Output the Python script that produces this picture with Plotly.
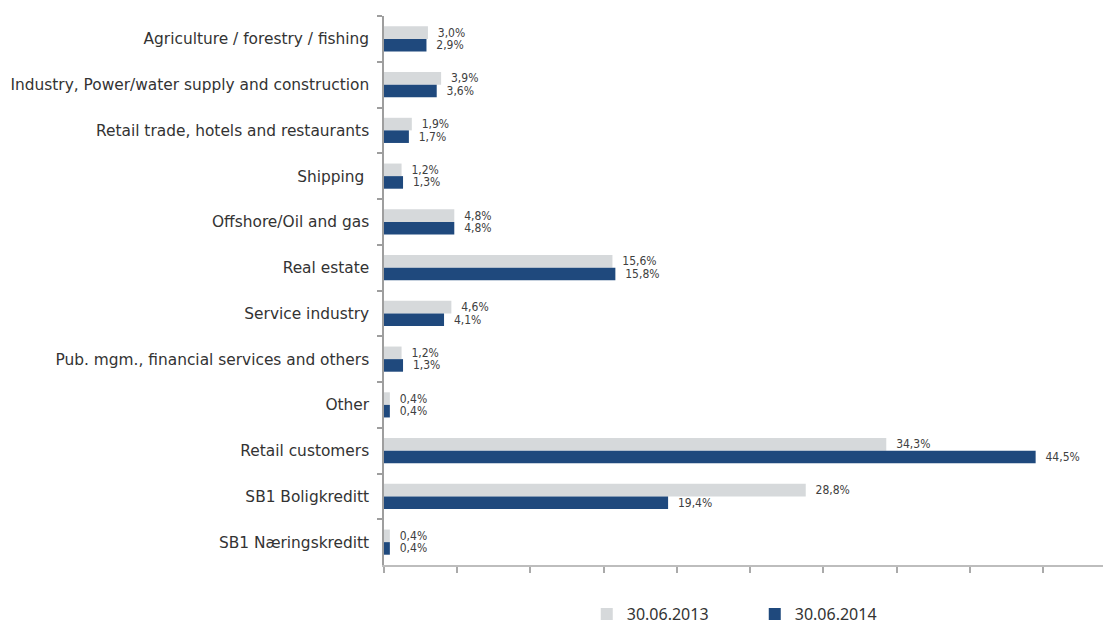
import plotly.graph_objects as go

# Loan exposure by sector, share of total (%)
categories = [
    "Agriculture / forestry / fishing",
    "Industry, Power/water supply and construction",
    "Retail trade, hotels and restaurants",
    "Shipping\u00a0",
    "Offshore/Oil and gas",
    "Real estate",
    "Service industry",
    "Pub. mgm., financial services and others",
    "Other",
    "Retail customers",
    "SB1 Boligkreditt",
    "SB1 Næringskreditt",
]
share_2013 = [3.0, 3.9, 1.9, 1.2, 4.8, 15.6, 4.6, 1.2, 0.4, 34.3, 28.8, 0.4]
share_2014 = [2.9, 3.6, 1.7, 1.3, 4.8, 15.8, 4.1, 1.3, 0.4, 44.5, 19.4, 0.4]
series_names = ["30.06.2013", "30.06.2014"]

GREY = "#D6D9DB"
BLUE = "#1F497D"
LABEL_FONT = dict(family="DejaVu Sans Condensed, Roboto, sans-serif", size=12, color="#404040")

fig = go.Figure()
for name, values, color in [(series_names[0], share_2013, GREY), (series_names[1], share_2014, BLUE)]:
    fig.add_trace(go.Bar(
        name=name,
        y=categories,
        x=values,
        orientation="h",
        marker=dict(color=color, line=dict(width=0)),
        texttemplate="\u00a0\u00a0%{x:.1f}%",
        textposition="outside",
        constraintext="none",
        cliponaxis=False,
        textfont=LABEL_FONT,
        hoverinfo="skip",
    ))

fig.update_layout(
    width=1103,
    height=631,
    margin=dict(l=384, r=0, t=16, b=66),
    paper_bgcolor="white",
    plot_bgcolor="white",
    barmode="group",
    bargap=0.45,
    bargroupgap=0,
    separators=", ",
    font=dict(family="DejaVu Sans, sans-serif", size=15, color="#333333"),
    showlegend=True,
    legend=dict(
        orientation="h",
        xref="container",
        yref="container",
        x=(384 + 0.282 * 719) / 1103,
        xanchor="left",
        y=0,
        yanchor="bottom",
        font=dict(family="Noto Sans, DejaVu Sans, sans-serif", size=16, color="#333333"),
        entrywidth=123,
        entrywidthmode="pixels",
        itemclick=False,
        itemdoubleclick=False,
    ),
)

fig.update_xaxes(
    range=[0, 49.1],
    dtick=5,
    tick0=0,
    showticklabels=False,
    showgrid=False,
    zeroline=False,
    showline=True,
    linecolor="#BDBDBD",
    linewidth=2,
    ticks="outside",
    ticklen=6,
    tickcolor="#AAAAAA",
    tickwidth=1.5,
    fixedrange=True,
)
fig.update_yaxes(
    autorange="reversed",
    showgrid=False,
    zeroline=False,
    showline=True,
    linecolor="#9E9E9E",
    linewidth=1.5,
    ticks="outside",
    tickson="boundaries",
    ticklen=5,
    tickcolor="#9E9E9E",
    tickwidth=1.5,
    ticklabelstandoff=10,
    tickfont=dict(family="DejaVu Sans, sans-serif", size=15.4, color="#333333"),
    fixedrange=True,
)

fig.write_html("out.html", config={"displayModeBar": False})
